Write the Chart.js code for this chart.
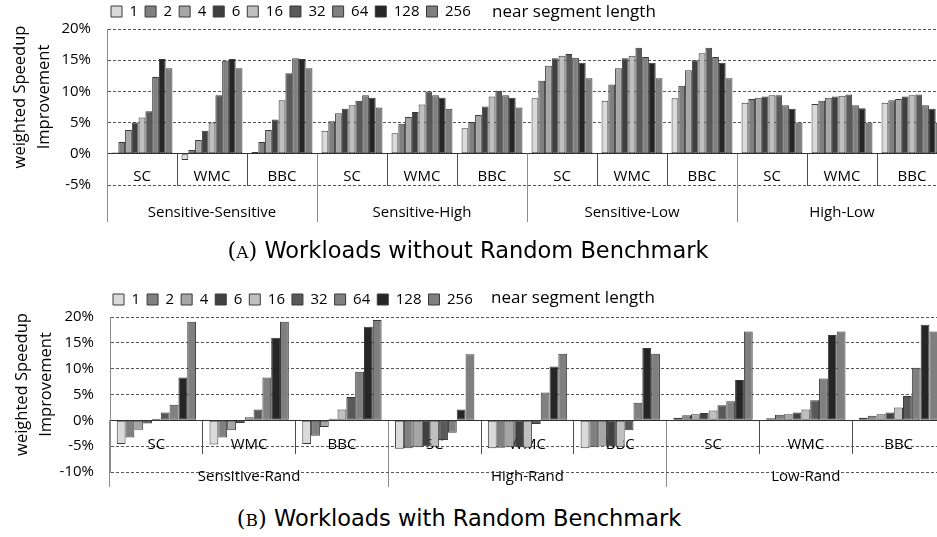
<!DOCTYPE html>
<html>
<head>
<meta charset="utf-8">
<script src="https://cdn.jsdelivr.net/npm/chart.js@4.4.1/dist/chart.umd.min.js"></script>
<style>
  html, body { margin:0; padding:0; background:#fff; }
  body { width:937px; height:537px; overflow:hidden; position:relative; }
  .panel { position:absolute; left:0; }
  .cap { position:absolute; left:0; font-family:"DejaVu Sans","Open Sans",sans-serif; font-size:22.5px; line-height:26px; color:#000; text-align:center; white-space:nowrap; }
  .cap .lbl { font-family:"DejaVu Serif","Liberation Serif",serif; }
  .cap .sc { font-size:17px; }
</style>
</head>
<body>
<div class="panel" style="top:0"><canvas id="chartA" width="950" height="240"></canvas></div>
<div class="cap" style="top:237px;width:936px"><span class="lbl">(<span class="sc">A</span>)</span> Workloads without Random Benchmark</div>
<div class="panel" style="top:285px"><canvas id="chartB" width="950" height="215"></canvas></div>
<div class="cap" style="top:505px;width:918px"><span class="lbl">(<span class="sc">B</span>)</span> Workloads with Random Benchmark</div>
<script>
// ---- data ----
const lengths = ['1','2','4','6','16','32','64','128','256'];
const subLabels = ['SC','WMC','BBC'];
const groupsA = ['Sensitive-Sensitive','Sensitive-High','Sensitive-Low','High-Low'];
const groupsB = ['Sensitive-Rand','High-Rand','Low-Rand'];
const yTitle = ['weighted Speedup','Improvement'];
const legendNote = 'near segment length';

// Panel A: order SS-SC, SS-WMC, SS-BBC, SH-SC, SH-WMC, SH-BBC, SL-SC, SL-WMC, SL-BBC, HL-SC, HL-WMC, HL-BBC
const A_len1   = [0.2,-1.0,0.3, 3.7,3.3,4.1, 8.9,8.5,8.9, 8.2,8.0,8.2];
const A_len2   = [1.9,0.6,1.9, 5.2,4.8,5.1, 11.7,11.1,10.9, 8.8,8.5,8.6];
const A_len4   = [3.8,2.2,3.8, 6.5,5.9,6.2, 14.1,13.7,13.4, 9.0,9.0,8.8];
const A_len6   = [5.0,3.7,5.5, 7.2,6.7,7.6, 15.3,15.3,15.0, 9.2,9.2,9.2];
const A_len16  = [5.8,5.0,8.6, 7.8,7.9,9.2, 15.7,15.7,16.1, 9.4,9.3,9.4];
const A_len32  = [6.8,9.4,12.9, 8.5,10.0,10.1, 16.0,17.0,17.0, 9.4,9.5,9.5];
const A_len64  = [12.3,14.9,15.3, 9.4,9.4,9.4, 15.4,15.5,15.5, 7.8,7.8,7.8];
const A_len128 = [15.2,15.2,15.2, 9.0,9.0,9.0, 14.6,14.6,14.6, 7.2,7.3,7.2];
const A_len256 = [13.7,13.7,13.7, 7.4,7.2,7.4, 12.1,12.1,12.1, 5.0,5.0,5.0];

// Panel B: order SR-SC, SR-WMC, SR-BBC, HR-SC, HR-WMC, HR-BBC, LR-SC, LR-WMC, LR-BBC
const B_len1   = [-4.6,-4.7,-4.6, -5.5,-5.4,-5.4, 0.5,0.4,0.5];
const B_len2   = [-3.3,-3.3,-3.0, -5.4,-5.3,-5.2, 1.0,1.1,0.9];
const B_len4   = [-1.8,-1.9,-1.3, -5.2,-5.2,-4.9, 1.2,1.2,1.2];
const B_len6   = [-0.6,-0.5,0.3, -5.0,-5.2,-5.0, 1.4,1.5,1.5];
const B_len16  = [0.3,0.6,2.1, -5.1,-5.3,-5.2, 1.9,2.1,2.5];
const B_len32  = [1.5,2.1,4.5, -3.8,-0.7,-1.9, 2.9,3.9,4.7];
const B_len64  = [3.0,8.3,9.4, -2.4,5.4,3.4, 3.7,8.1,10.2];
const B_len128 = [8.3,16.0,18.1, 2.1,10.4,14.0, 7.8,16.5,18.5];
const B_len256 = [19.1,19.1,19.4, 12.8,12.9,12.9, 17.2,17.2,17.2];

const seriesA = [A_len1,A_len2,A_len4,A_len6,A_len16,A_len32,A_len64,A_len128,A_len256];
const seriesB = [B_len1,B_len2,B_len4,B_len6,B_len16,B_len32,B_len64,B_len128,B_len256];

// ---- styles ----
const fills = ['#dadada','#808080','#a6a6a6','#404040','#bfbfbf','#595959','#808080','#262626','#7f7f7f'];
const FONT = 'Open Sans';
Chart.defaults.font.family = FONT;
Chart.defaults.color = '#000';

const extras = {
  id: 'extras',
  afterLayout(chart, args, o) {
    if (chart.legend) chart.legend.left = o.legendLeft;
  },
  afterDraw(chart, args, o) {
    const ctx = chart.ctx, a = chart.chartArea;
    ctx.save();
    ctx.fillStyle = '#000';
    ctx.textAlign = 'center';
    ctx.textBaseline = 'middle';
    ctx.font = '16.5px "' + FONT + '"';
    const cy = (a.top + a.bottom) / 2 - 10;
    yTitle.forEach((t, i) => {
      ctx.save();
      ctx.translate(o.titleX[i], cy);
      ctx.rotate(-Math.PI / 2);
      ctx.fillText(t, 0, 0);
      ctx.restore();
    });
    ctx.textAlign = 'left';
    ctx.font = '17px "' + FONT + '"';
    ctx.fillText(legendNote, o.noteX, o.noteY);
    ctx.restore();
  }
};

function makeChart(id, groups, series, yMin, o) {
  const cats = groups.flatMap(() => subLabels);
  const datasets = lengths.map((l, i) => ({
    label: l,
    data: series[i],
    backgroundColor: fills[i],
    borderColor: '#3a3a3a',
    borderWidth: 1,
    borderSkipped: false,
    categoryPercentage: o.catPct,
    barPercentage: 1,
    xAxisID: 'x',
    yAxisID: 'y'
  }));
  return new Chart(document.getElementById(id), {
    type: 'bar',
    data: { labels: cats, datasets },
    plugins: [extras],
    options: {
      responsive: false,
      animation: false,
      devicePixelRatio: 1,
      layout: { padding: o.padding },
      plugins: {
        legend: {
          display: true, position: 'top', align: 'start',
          labels: { boxWidth: 11, boxHeight: 11, padding: 7, color: '#000', font: { family: FONT, size: 15 } }
        },
        tooltip: { enabled: false },
        extras: { legendLeft: o.legendLeft, titleX: o.titleX, noteX: o.noteX, noteY: o.noteY }
      },
      scales: {
        x: {
          type: 'category', labels: cats, position: { y: 0 }, offset: true,
          grid: {
            display: true, offset: true, drawOnChartArea: false, drawTicks: true,
            tickLength: o.shortTick, tickWidth: 1,
            tickColor: c => (c.index !== undefined && c.index % 3 === 0) ? 'rgba(0,0,0,0)' : '#4d4d4d'
          },
          border: { display: true, color: '#333', width: 1 },
          ticks: { autoSkip: false, maxRotation: 0, minRotation: 0, padding: o.subPad, color: '#000', font: { family: FONT, size: 15 } }
        },
        x2: {
          type: 'category', axis: 'x', labels: groups, position: { y: 0 }, offset: true,
          grid: {
            display: true, offset: true, drawOnChartArea: false, drawTicks: true,
            tickLength: o.longTick, tickWidth: 1, tickColor: '#8c8c8c'
          },
          border: { display: false },
          ticks: { autoSkip: false, maxRotation: 0, minRotation: 0, padding: o.grpPad, color: '#000', font: { family: FONT, size: 15 } }
        },
        y: {
          min: yMin, max: 20,
          ticks: { stepSize: 5, padding: 16, color: '#000', font: { family: FONT, size: 15 }, callback: v => v + '%' },
          grid: { color: '#555', lineWidth: 1, drawTicks: false },
          border: { display: true, color: '#8c8c8c', width: 1, dash: [3, 2] },
          afterFit: s => { s.width = o.yWidth; }
        }
      }
    }
  });
}

makeChart('chartA', groupsA, seriesA, -5, {
  catPct: 0.87, padding: { top: -3, left: 0, right: 3, bottom: 55 }, yWidth: 107,
  legendLeft: 104, titleX: [20, 44], noteX: 492, noteY: 12,
  shortTick: 32, longTick: 68, subPad: -18, grpPad: -18
});
makeChart('chartB', groupsB, seriesB, -10, {
  catPct: 0.855, padding: { top: 0, left: 0, right: 5, bottom: 28 }, yWidth: 110,
  legendLeft: 106, titleX: [22, 46], noteX: 491, noteY: 13,
  shortTick: 33, longTick: 67, subPad: -18, grpPad: -20
});
</script>
</body>
</html>
